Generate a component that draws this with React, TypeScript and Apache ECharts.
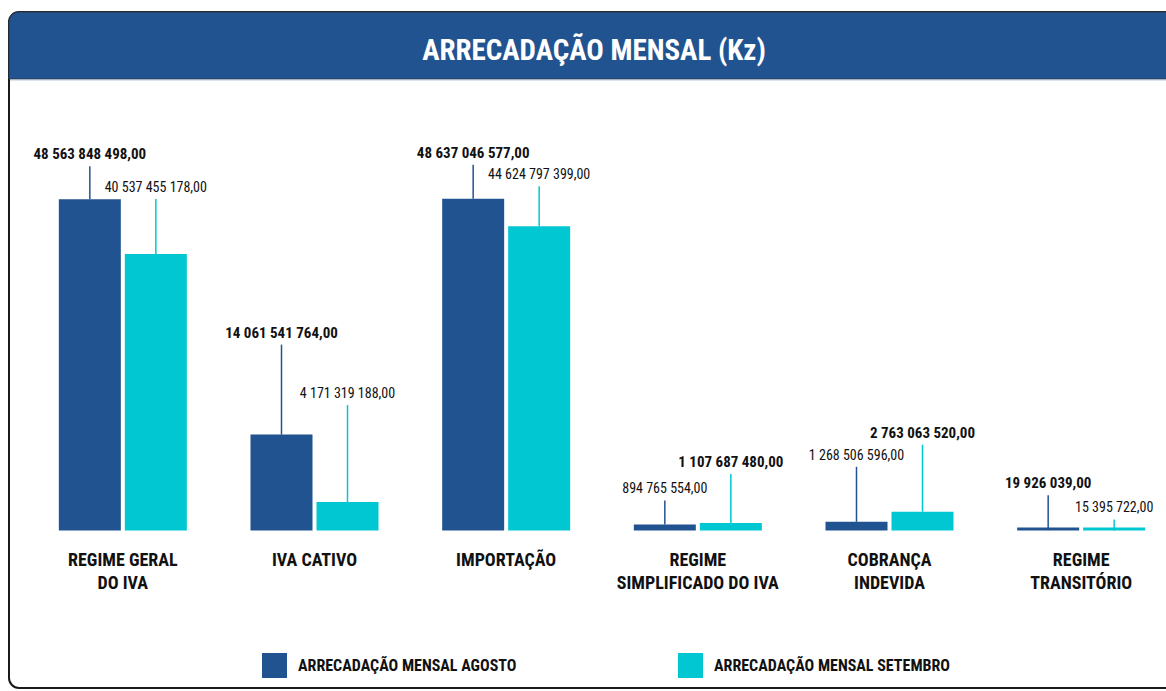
import React, { useEffect, useRef } from "react";
import * as echarts from "echarts";

const title = "ARRECADAÇÃO MENSAL (Kz)";
const categories = [
  "REGIME GERAL\nDO IVA",
  "IVA CATIVO",
  "IMPORTAÇÃO",
  "REGIME\nSIMPLIFICADO DO IVA",
  "COBRANÇA\nINDEVIDA",
  "REGIME\nTRANSITÓRIO",
];
const seriesNames = ["ARRECADAÇÃO MENSAL AGOSTO", "ARRECADAÇÃO MENSAL SETEMBRO"];
const agosto = [48563848498.0, 14061541764.0, 48637046577.0, 894765554.0, 1268506596.0, 19926039.0];
const setembro = [40537455178.0, 4171319188.0, 44624797399.0, 1107687480.0, 2763063520.0, 15395722.0];

// layout only: how far (px) each value label sits above its bar top
const labelLift = [
  [45, 102, 46, 36, 67, 47],
  [67, 109, 52, 61, 79, 23],
];

const COLORS = ["#225391", "#00C7D1"];
const FONT = "'Liberation Sans Narrow', 'Roboto Condensed', 'DejaVu Sans Condensed', 'Roboto', sans-serif";
const BAR_W = 62;
const BAR_GAP = 4;

function fmt(v: number): string {
  const [i, d] = v.toFixed(2).split(".");
  return i.replace(/\B(?=(\d{3})+(?!\d))/g, " ") + "," + d;
}

export default function App() {
  const ref = useRef<HTMLDivElement>(null);
  useEffect(() => {
    if (!ref.current) return;
    const chart = echarts.init(ref.current, undefined, { renderer: "svg" });
    const series: any[] = [agosto, setembro];
    const half = (BAR_W + BAR_GAP) / 2;

    const labelSeries = series.map((vals: number[], s: number) => ({
      type: "custom",
      z: 5,
      silent: true,
      data: vals.map((v, i) => [i, v]),
      renderItem: (params: any, api: any) => {
        const i = api.value(0);
        const v = api.value(1);
        const p = api.coord([i, v]);
        const x = p[0] + (s === 0 ? -half : half);
        const lift = labelLift[s][i];
        const other = series[1 - s][i];
        const bold = v >= other;
        const ty = p[1] - lift;
        return {
          type: "group",
          children: [
            {
              type: "line",
              shape: { x1: x, y1: p[1], x2: x, y2: ty + 12 },
              style: { stroke: COLORS[s], lineWidth: 1.5 },
            },
            {
              type: "text",
              x,
              y: ty,
              style: {
                text: fmt(v),
                align: "center",
                verticalAlign: "middle",
                fill: "#111111",
                font: bold ? `bold 15px ${FONT}` : `14px ${FONT}`,
              },
            },
          ],
        };
      },
    }));

    const legendBase = {
      icon: "rect",
      itemWidth: 25,
      itemHeight: 25,
      top: 653,
      padding: 0,
      selectedMode: false,
      textStyle: {
        fontFamily: FONT,
        fontWeight: "bold",
        fontSize: 16,
        color: "#111111",
        padding: [0, 0, 0, 6],
      },
    };

    chart.setOption({
      animation: false,
      graphic: [
        {
          type: "rect",
          z: -10,
          silent: true,
          shape: { x: 9, y: 12, width: 1175, height: 676, r: 10 },
          style: { fill: "#ffffff", stroke: "#1a1a1a", lineWidth: 2 },
        },
        {
          type: "rect",
          z: -9,
          silent: true,
          shape: { x: 9, y: 12, width: 1175, height: 67, r: [10, 0, 0, 0] },
          style: { fill: "#225391", stroke: "#2b3a4a", lineWidth: 1 },
        },
        {
          type: "line",
          z: -9,
          silent: true,
          shape: { x1: 10, y1: 80, x2: 1166, y2: 80 },
          style: { stroke: "#b9c7db", lineWidth: 1 },
        },
        {
          type: "text",
          z: 10,
          x: 594,
          y: 50,
          style: {
            text: title,
            align: "center",
            verticalAlign: "middle",
            fill: "#ffffff",
            font: `bold 29px ${FONT}`,
          },
        },
      ],
      legend: [
        { ...legendBase, left: 262, data: [seriesNames[0]] },
        { ...legendBase, left: 678, data: [seriesNames[1]] },
      ],
      grid: {
        left: 27,
        width: 1150,
        top: 189.5,
        bottom: 160.5,
        containLabel: false,
        outerBoundsMode: "none",
      },
      xAxis: {
        type: "category",
        data: categories,
        axisLine: { show: false },
        axisTick: { show: false },
        axisLabel: {
          interval: 0,
          margin: 17,
          fontFamily: FONT,
          fontWeight: "bold",
          fontSize: 18,
          lineHeight: 23,
          color: "#111111",
        },
      },
      yAxis: { type: "value", min: 0, max: 50e9, show: false, splitLine: { show: false } },
      series: [
        ...series.map((vals: number[], s: number) => ({
          type: "bar",
          name: seriesNames[s],
          data: vals,
          barWidth: BAR_W,
          barGap: `${(BAR_GAP / BAR_W) * 100}%`,
          barMinHeight: 3,
          itemStyle: { color: COLORS[s] },
          z: 2,
        })),
        ...labelSeries,
      ],
    });
    return () => chart.dispose();
  }, []);
  return (
    <div
      ref={ref}
      style={{ position: "fixed", left: 0, top: 0, width: 1166, height: 691, background: "#ffffff" }}
    />
  );
}
